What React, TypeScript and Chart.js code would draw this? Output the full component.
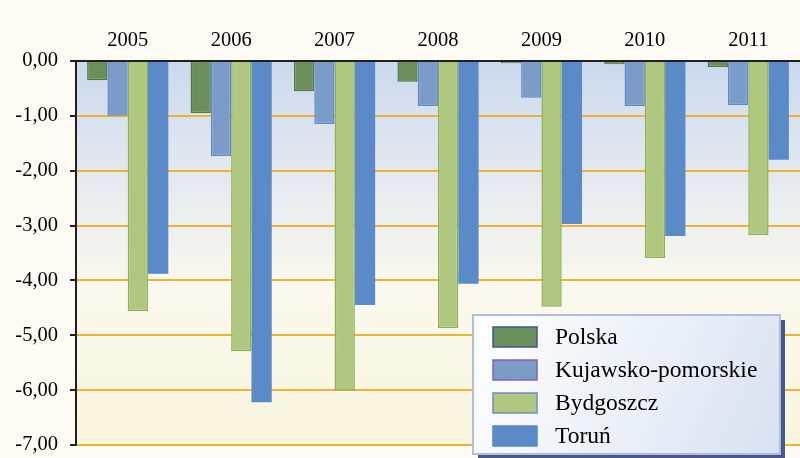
import React, { useEffect, useRef } from "react";
import { Chart, registerables } from "chart.js";

Chart.register(...registerables);

const categories = ["2005", "2006", "2007", "2008", "2009", "2010", "2011"];
const seriesNames = ["Polska", "Kujawsko-pomorskie", "Bydgoszcz", "Toruń"];
const polska = [-0.35, -0.95, -0.55, -0.38, -0.04, -0.06, -0.11];
const kujawsko = [-1.0, -1.73, -1.15, -0.82, -0.67, -0.82, -0.8];
const bydgoszcz = [-4.56, -5.29, -6.01, -4.87, -4.48, -3.59, -3.17];
const torun = [-3.88, -6.22, -4.45, -4.06, -2.97, -3.19, -1.8];
const yTicks = [0, -1, -2, -3, -4, -5, -6, -7];

const fills = ["#6b8f5a", "#7b9cc8", "#b0c780", "#5a8ac8"];
const borders = ["#4f7a40", "#5f8cc4", "#8fb055", "#5a8ac8"];
const legendBorders = ["#3f5a88", "#8466a8", "#6f8fc4", "#5a8ac8"];

const SERIF = "'Liberation Serif', 'Times New Roman', serif";

const bgPlugin = {
  id: "bgPlugin",
  beforeDraw(chart: any) {
    const { ctx, chartArea: a, width, height } = chart;
    ctx.save();
    ctx.fillStyle = "#fdfbf3";
    ctx.fillRect(0, 0, width, height);
    const g = ctx.createLinearGradient(0, a.top, 0, a.bottom);
    g.addColorStop(0, "#cbd9ee");
    g.addColorStop(0.35, "#e9ecf0");
    g.addColorStop(0.6, "#fbf9ee");
    g.addColorStop(1, "#f8f5dd");
    ctx.fillStyle = g;
    ctx.fillRect(a.left, a.top, a.right - a.left, a.bottom - a.top);
    ctx.restore();
  },
};

const legendPlugin = {
  id: "boxLegend",
  afterDraw(chart: any) {
    const { ctx } = chart;
    const x = 473, y = 315, w = 307, h = 139;
    ctx.save();
    ctx.fillStyle = "#4a5888";
    ctx.fillRect(x + 5, y + 5, w, h);
    const g = ctx.createLinearGradient(x, y, x + w, y + h);
    g.addColorStop(0, "#ffffff");
    g.addColorStop(1, "#d9e2f2");
    ctx.fillStyle = g;
    ctx.fillRect(x, y, w, h);
    ctx.strokeStyle = "#aebde2";
    ctx.lineWidth = 2;
    ctx.strokeRect(x, y, w, h);
    const ds = chart.data.datasets;
    ctx.font = "23.5px " + SERIF;
    ctx.textBaseline = "middle";
    ctx.textAlign = "left";
    for (let i = 0; i < ds.length; i++) {
      const cy = 337 + i * 33;
      ctx.fillStyle = ds[i].backgroundColor;
      ctx.fillRect(493, cy - 10, 44, 20);
      ctx.strokeStyle = legendBorders[i];
      ctx.lineWidth = 1.5;
      ctx.strokeRect(493, cy - 10, 44, 20);
      ctx.fillStyle = "#000";
      ctx.fillText(ds[i].label, 555, cy + 1);
    }
    ctx.restore();
  },
};

export default function App() {
  const ref = useRef<HTMLCanvasElement>(null);
  useEffect(() => {
    document.body.style.margin = "0";
    const values = [polska, kujawsko, bydgoszcz, torun];
    const chart = new Chart(ref.current!, {
      type: "bar",
      data: {
        labels: categories,
        datasets: seriesNames.map((n, i) => ({
          label: n,
          data: values[i],
          backgroundColor: fills[i],
          borderColor: borders[i],
          borderWidth: i === 3 ? 0 : 1.5,
          barPercentage: 1,
          categoryPercentage: 0.785,
        })),
      },
      options: {
        responsive: false,
        animation: false,
        layout: { padding: { left: 0, right: 0, top: 0, bottom: 13 } },
        plugins: { legend: { display: false }, tooltip: { enabled: false } },
        scales: {
          x: {
            position: "top",
            grid: { display: true, drawOnChartArea: false, drawTicks: false },
            border: { display: true, color: "#231f20", width: 2 },
            ticks: { color: "#000", font: { family: SERIF, size: 20.5 }, padding: 8 },
            afterFit(s: any) { s.height = 61; s.paddingLeft = 0; s.paddingRight = 0; },
          },
          y: {
            min: -7,
            max: 0,
            afterBuildTicks(s: any) { s.ticks = yTicks.map((v) => ({ value: v })); },
            grid: { color: "#f0b232", lineWidth: 2, tickColor: "#231f20", tickLength: 6, tickWidth: 2 },
            border: { display: true, color: "#231f20", width: 2 },
            ticks: {
              color: "#000",
              font: { family: SERIF, size: 20.5 },
              padding: 12,
              callback: (v: any) => Number(v).toFixed(2).replace(".", ","),
            },
            afterFit(s: any) { s.width = 76; s.paddingTop = 0; s.paddingBottom = 0; },
          },
        },
      },
      plugins: [bgPlugin, legendPlugin],
    } as any);
    return () => chart.destroy();
  }, []);
  return <canvas ref={ref} width={800} height={458} style={{ display: "block" }} />;
}
